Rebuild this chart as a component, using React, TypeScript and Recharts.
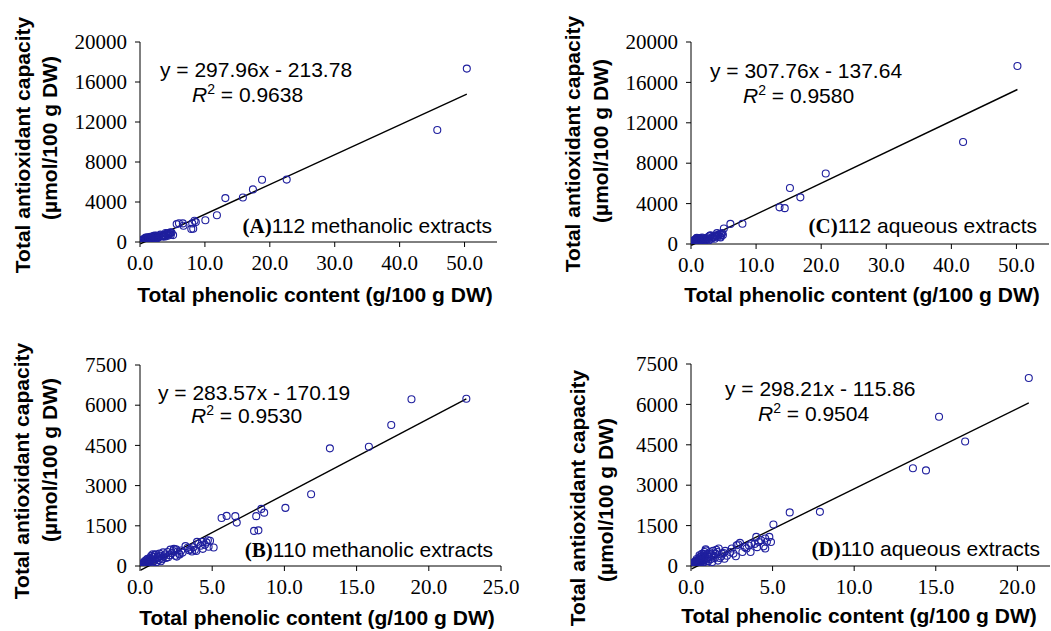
// App.tsx — revision 7: four scatter panels, serif tick labels via custom axis ticks
import React from 'react';
import {
  ScatterChart,
  Scatter,
  XAxis,
  YAxis,
  ReferenceLine,
  Customized,
} from 'recharts';

// ---------------- DATA ----------------
// 110 methanolic extracts (panel B); panel A adds the two high outliers
const methanolicX110 = [
  22.6, 18.8, 17.4, 15.85, 13.15, 11.85, 10.07, 8.6, 8.4, 8.05, 8.2, 7.9, 6.7, 6.6, 6.0, 5.65, 5.1,
  4.85, 4.7, 4.75, 4.6, 4.5, 4.35, 4.3, 4.2, 4.05, 3.95, 3.9, 3.8, 3.7, 3.6, 3.5, 3.4, 3.15, 2.95,
  2.85, 2.75, 2.7, 2.6, 2.5, 2.45, 2.35, 2.3, 2.2, 2.1, 2.05, 1.95, 1.9, 1.8, 1.75, 1.65, 1.55, 1.5,
  1.45, 1.4, 1.3, 1.25, 1.2, 1.15, 1.1, 1.05, 1.0, 0.95, 0.9, 0.88, 0.85, 0.8, 0.78, 0.75, 0.7,
  0.68, 0.65, 0.62, 0.6, 0.58, 0.55, 0.52, 0.5, 0.48, 0.45, 0.43, 0.4, 0.38, 0.36, 0.34, 0.32, 0.3,
  0.28, 0.26, 0.25, 0.23, 0.21, 0.2, 0.18, 0.17, 0.15, 0.14, 0.12, 0.11, 0.1, 0.09, 0.08, 0.07,
  0.06, 0.05, 1.35, 2.55, 3.3, 1.6, 0.97,
];
const methanolicY110 = [
  6240, 6220, 5260, 4450, 4390, 2680, 2170, 1990, 2130, 1860, 1330, 1310, 1620, 1860, 1870, 1790, 690,
  940, 960, 720, 880, 790, 640, 900, 760, 830, 900, 560, 600, 700, 540, 620, 590, 740, 500,
  580, 430, 460, 540, 620, 380, 640, 560, 480, 610, 400, 330, 520, 300, 430, 360, 250, 310,
  180, 380, 220, 330, 290, 150, 440, 250, 420, 180, 330, 440, 120, 260, 380, 200, 90,
  300, 160, 240, 60, 190, 130, 270, 40, 170, 100, 220, 60, 140, 30, 110, 180, 50,
  90, 20, 130, 60, 100, 30, 70, 10, 50, 90, 25, 60, 15, 40, 10, 30,
  20, 8, 460, 350, 680, 510, 350,
];
const methanolicOutlierX = [50.35, 45.8];
const methanolicOutlierY = [17340, 11200];

// 110 aqueous extracts (panel D); panel C adds the two high outliers
const aqueousX110 = [
  20.7, 16.8, 15.2, 14.4, 13.6, 7.9, 6.05, 5.05, 4.9, 4.8, 4.55, 4.55, 4.45, 4.3, 4.15, 4.0, 3.9,
  3.7, 3.65, 3.4, 3.15, 3.0, 2.9, 2.8, 2.75, 2.6, 2.4, 2.05, 2.0, 1.9, 1.85, 1.7, 1.65, 1.6, 1.5,
  1.45, 1.4, 1.35, 1.3, 1.25, 1.2, 1.15, 1.1, 1.05, 1.0, 0.95, 0.92, 0.9, 0.88, 0.85, 0.8, 0.78,
  0.75, 0.72, 0.7, 0.68, 0.65, 0.62, 0.6, 0.58, 0.55, 0.53, 0.5, 0.48, 0.46, 0.44, 0.42, 0.4,
  0.38, 0.36, 0.34, 0.32, 0.3, 0.28, 0.27, 0.25, 0.23, 0.22, 0.2, 0.19, 0.17, 0.16, 0.15, 0.13,
  0.12, 0.11, 0.1, 0.09, 0.08, 0.07, 0.06, 0.05, 0.04, 1.55, 1.75, 2.2, 2.5, 3.3, 4.65, 1.12,
  0.98, 0.83, 0.67, 0.52, 1.28, 2.1, 3.55, 4.05, 0.35, 0.57,
];
const aqueousY110 = [
  6980, 4620, 5540, 3550, 3630, 2010, 1990, 1540, 890, 1080, 1020, 650, 730, 960, 890, 1080, 820,
  830, 520, 650, 520, 860, 800, 770, 360, 460, 520, 270, 480, 460, 350, 650, 200, 520, 460,
  300, 380, 560, 150, 430, 250, 510, 330, 180, 420, 100, 580, 620, 270, 350, 200, 450,
  130, 300, 60, 380, 220, 150, 280, 90, 200, 330, 140, 50, 240, 110, 180, 30,
  130, 200, 80, 150, 40, 110, 170, 60, 120, 20, 90, 140, 40, 80, 10, 60,
  100, 25, 50, 15, 70, 30, 10, 40, 15, 600, 300, 380, 650, 700, 900, 450,
  240, 520, 450, 400, 350, 560, 760, 700, 260, 330,
];
const aqueousOutlierX = [50.15, 41.8];
const aqueousOutlierY = [17630, 10100];

const xTicksWide = [0, 10, 20, 30, 40, 50];
const yTicksWide = [0, 4000, 8000, 12000, 16000, 20000];
const xTicksB = [0, 5, 10, 15, 20, 25];
const xTicksD = [0, 5, 10, 15, 20];
const yTicksNarrow = [0, 1500, 3000, 4500, 6000, 7500];

// ---------------- STYLE ----------------
const SANS = '"Liberation Sans", Arial, sans-serif';
const SERIF = '"Liberation Serif", "Times New Roman", serif';
const MARKER = '#1f1f9e';
const FS = 21;
const Y_AXIS_W = 60;
const X_AXIS_H = 30;

type Pt = { x: number; y: number };
const toPoints = (xs: number[], ys: number[]): Pt[] => xs.map((x, i) => ({ x, y: ys[i] }));

type PanelSpec = {
  left: number;
  top: number;
  width: number;
  height: number;
  plot: { l: number; t: number; r: number; b: number };
  points: Pt[];
  xDomain: [number, number];
  xTicks: number[];
  yDomain: [number, number];
  yTicks: number[];
  slope: number;
  intercept: number;
  eq: string;
  r2: string;
  letter: string;
  caption: string;
  eqPos: [number, number];
  r2Pos: [number, number];
  capPos: [number, number];
  yTitle: { b1: number; b2: number; c1: number; c2: number };
  xTitle: [number, number];
};

const circleShape = (p: any) => (
  <circle cx={p.cx} cy={p.cy} r={3.5} fill="none" stroke={MARKER} strokeWidth={1.1} />
);

const renderXTick = (p: any) => (
  <text
    x={p.x}
    y={p.y}
    dy="0.71em"
    textAnchor="middle"
    fontFamily={SERIF}
    fontSize={FS}
    fill="#000"
  >
    {Number(p.payload.value).toFixed(1)}
  </text>
);

const renderYTick = (p: any) => (
  <text
    x={p.x}
    y={p.y}
    dy="0.34em"
    textAnchor="end"
    fontFamily={SERIF}
    fontSize={FS}
    fill="#000"
  >
    {String(p.payload.value)}
  </text>
);

function Panel({ s }: { s: PanelSpec }) {
  const margin = {
    top: s.plot.t - s.top,
    right: s.left + s.width - s.plot.r,
    bottom: s.top + s.height - s.plot.b - X_AXIS_H,
    left: s.plot.l - s.left - Y_AXIS_W,
  };
  const xsAll = s.points.map((p) => p.x);
  const x0 = Math.min(...xsAll);
  const x1 = Math.max(...xsAll);
  const ox = s.left;
  const oy = s.top;
  const overlay = () => (
    <g>
      <text x={s.eqPos[0] - ox} y={s.eqPos[1] - oy} fontFamily={SANS} fontSize={FS} fill="#000">
        {s.eq}
      </text>
      <text x={s.r2Pos[0] - ox} y={s.r2Pos[1] - oy} fontFamily={SANS} fontSize={FS} fill="#000">
        <tspan fontStyle="italic">R</tspan>
        <tspan dy={-8} fontSize={14}>2</tspan>
        <tspan dy={8}>{' = ' + s.r2}</tspan>
      </text>
      <text
        x={s.capPos[0] - ox}
        y={s.capPos[1] - oy}
        textAnchor="end"
        fontFamily={SANS}
        fontSize={FS}
        fill="#000"
      >
        <tspan fontFamily={SERIF} fontWeight="bold">{'(' + s.letter + ')'}</tspan>
        <tspan>{s.caption}</tspan>
      </text>
      <text
        transform={`translate(${s.yTitle.b1 - ox},${s.yTitle.c1 - oy}) rotate(-90)`}
        textAnchor="middle"
        fontFamily={SANS}
        fontWeight="bold"
        fontSize={FS}
        fill="#000"
      >
        Total antioxidant capacity
      </text>
      <text
        transform={`translate(${s.yTitle.b2 - ox},${s.yTitle.c2 - oy}) rotate(-90)`}
        textAnchor="middle"
        fontFamily={SANS}
        fontWeight="bold"
        fontSize={FS}
        fill="#000"
      >
        (µmol/100 g DW)
      </text>
      <text
        x={s.xTitle[0] - ox}
        y={s.xTitle[1] - oy}
        textAnchor="middle"
        fontFamily={SANS}
        fontWeight="bold"
        fontSize={FS}
        fill="#000"
      >
        Total phenolic content (g/100 g DW)
      </text>
    </g>
  );
  return (
    <div style={{ position: 'absolute', left: s.left, top: s.top, width: s.width, height: s.height }}>
      <ScatterChart width={s.width} height={s.height} margin={margin}>
        <XAxis
          type="number"
          dataKey="x"
          domain={s.xDomain}
          ticks={s.xTicks}
          allowDataOverflow
          height={X_AXIS_H}
          tick={renderXTick}
          tickSize={5}
          tickMargin={8}
          stroke="#000"
          interval={0}
        />
        <XAxis
          xAxisId="top"
          orientation="top"
          type="number"
          domain={s.xDomain}
          height={0}
          tick={false}
          tickLine={false}
          stroke="#000"
        />
        <YAxis
          type="number"
          dataKey="y"
          domain={s.yDomain}
          ticks={s.yTicks}
          allowDataOverflow
          width={Y_AXIS_W}
          tick={renderYTick}
          tickSize={5}
          tickMargin={8}
          stroke="#000"
          interval={0}
        />
        <YAxis
          yAxisId="right"
          orientation="right"
          type="number"
          domain={s.yDomain}
          width={0}
          tick={false}
          tickLine={false}
          stroke="#000"
        />
        <Scatter data={s.points} shape={circleShape} isAnimationActive={false} />
        <ReferenceLine
          segment={[
            { x: x0, y: s.slope * x0 + s.intercept },
            { x: x1, y: s.slope * x1 + s.intercept },
          ]}
          stroke="#000"
          strokeWidth={1.4}
          ifOverflow="visible"
        />
        <Customized component={overlay} />
      </ScatterChart>
    </div>
  );
}

const panels: PanelSpec[] = [
  {
    left: 0, top: 0, width: 525, height: 315,
    plot: { l: 140, t: 42, r: 497, b: 242 },
    points: toPoints([...methanolicX110, ...methanolicOutlierX], [...methanolicY110, ...methanolicOutlierY]),
    xDomain: [0, 55], xTicks: xTicksWide, yDomain: [0, 20000], yTicks: yTicksWide,
    slope: 297.96, intercept: -213.78,
    eq: 'y = 297.96x - 213.78', r2: '0.9638', letter: 'A', caption: '112 methanolic extracts',
    eqPos: [160, 77], r2Pos: [192, 102], capPos: [492, 233],
    yTitle: { b1: 30, b2: 57, c1: 145, c2: 138 },
    xTitle: [315, 302],
  },
  {
    left: 525, top: 0, width: 526, height: 315,
    plot: { l: 691, t: 42, r: 1049, b: 244 },
    points: toPoints([...aqueousX110, ...aqueousOutlierX], [...aqueousY110, ...aqueousOutlierY]),
    xDomain: [0, 55], xTicks: xTicksWide, yDomain: [0, 20000], yTicks: yTicksWide,
    slope: 307.76, intercept: -137.64,
    eq: 'y = 307.76x - 137.64', r2: '0.9580', letter: 'C', caption: '112 aqueous extracts',
    eqPos: [710, 78], r2Pos: [743, 103], capPos: [1037, 233],
    yTitle: { b1: 580, b2: 608, c1: 144, c2: 141 },
    xTitle: [862, 302],
  },
  {
    left: 0, top: 315, width: 525, height: 316,
    plot: { l: 140, t: 365, r: 501, b: 566 },
    points: toPoints(methanolicX110, methanolicY110),
    xDomain: [0, 25], xTicks: xTicksB, yDomain: [0, 7500], yTicks: yTicksNarrow,
    slope: 283.57, intercept: -170.19,
    eq: 'y = 283.57x - 170.19', r2: '0.9530', letter: 'B', caption: '110 methanolic extracts',
    eqPos: [158, 400], r2Pos: [191, 423], capPos: [493, 557],
    yTitle: { b1: 29, b2: 57, c1: 471, c2: 460 },
    xTitle: [317, 625],
  },
  {
    left: 525, top: 315, width: 526, height: 316,
    plot: { l: 691, t: 364, r: 1050, b: 566 },
    points: toPoints(aqueousX110, aqueousY110),
    xDomain: [0, 22], xTicks: xTicksD, yDomain: [0, 7500], yTicks: yTicksNarrow,
    slope: 298.21, intercept: -115.86,
    eq: 'y = 298.21x - 115.86', r2: '0.9504', letter: 'D', caption: '110 aqueous extracts',
    eqPos: [725, 396], r2Pos: [758, 421], capPos: [1040, 556],
    yTitle: { b1: 585, b2: 613, c1: 498, c2: 500 },
    xTitle: [859, 623],
  },
];

export default function App() {
  return (
    <div
      style={{
        position: 'absolute',
        left: 0,
        top: 0,
        width: 1051,
        height: 631,
        background: '#fff',
        overflow: 'hidden',
      }}
    >
      {panels.map((s) => (
        <Panel key={s.letter} s={s} />
      ))}
    </div>
  );
}
